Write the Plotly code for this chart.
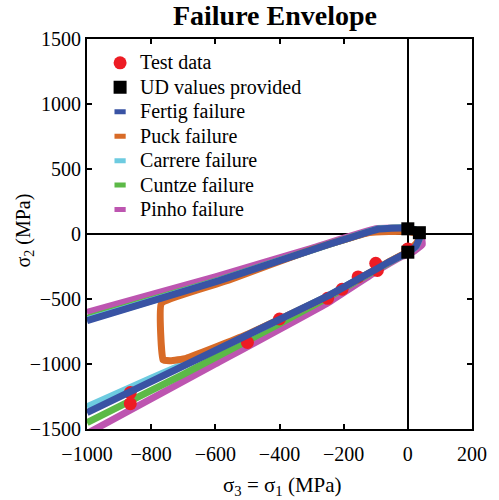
import plotly.graph_objects as go

# Measured failure points (sigma3 = sigma1, sigma2) in MPa
test_s1 = [-865, -865, -500, -400, -250, -205, -155, -100, -95, 0]
test_s2 = [-1220, -1305, -834, -654, -495, -425, -330, -225, -280, -115]

# Unidirectional strength values provided
ud_s1 = [0, 36, 0]
ud_s2 = [40, 10, -140]

# Predicted failure envelopes (closed loops)
fertig_s1 = [-1000, -600, -247, -60, 0, 25, 38, 30, 0, -50, -90, -130, -247, -588, -1000]
fertig_s2 = [-1374, -896, -474, -217, -140, -95, -20, 25, 45, 45, 38, 10, -80, -358, -667]

puck_s1 = [0, -120, -300, -557, -768, -763, -740, -691, -505, -250, -60, 0, 30, 35, 0]
puck_s2 = [20, 12, -120, -354, -533, -969, -975, -956, -777, -480, -215, -135, -60, 0, 20]

carrere_s1 = [-1000, -800, -600, -247, -60, 0, 25, 38, 30, 0, -50, -90, -130, -247, -588, -1000]
carrere_s2 = [-1330, -1110, -893, -474, -217, -140, -95, -20, 25, 45, 45, 38, 10, -80, -358, -660]

cuntze_s1 = [-1000, -700, -400, -250, -60, 0, 25, 38, 30, 0, -50, -90, -130, -247, -588, -1000]
cuntze_s2 = [-1451, -1080, -690, -490, -220, -140, -95, -20, 25, 45, 45, 38, 10, -80, -355, -650]

pinho_s1 = [-1000, -600, -250, -100, -20, 20, 45, 40, 0, -100, -300, -600, -1000]
pinho_s2 = [-1535, -1000, -530, -290, -175, -130, -80, 0, 45, 40, -110, -330, -603]

C_FERTIG = "#3953a4"
C_PUCK = "#d86b27"
C_CARRERE = "#6dcbe0"
C_CUNTZE = "#5cb947"
C_PINHO = "#bd55b0"
C_TEST = "#ed1c24"

FONT = "Liberation Serif"
LW = 7

fig = go.Figure()

def envelope(xs, ys, color):
    fig.add_trace(go.Scatter(x=xs, y=ys, mode="lines", showlegend=False,
                             line=dict(color=color, width=LW, shape="spline", smoothing=0.3),
                             hoverinfo="skip"))

envelope(pinho_s1, pinho_s2, C_PINHO)
envelope(cuntze_s1, cuntze_s2, C_CUNTZE)
envelope(carrere_s1, carrere_s2, C_CARRERE)
envelope(puck_s1, puck_s2, C_PUCK)

def legend_label(text):
    return f'<span style="font-size:20px">{text}</span>'

fig.add_trace(go.Scatter(x=test_s1, y=test_s2, mode="markers", name=legend_label("Test data"),
                         legendrank=1,
                         marker=dict(symbol="circle", size=13, color=C_TEST)))

envelope(fertig_s1, fertig_s2, C_FERTIG)

fig.add_trace(go.Scatter(x=ud_s1, y=ud_s2, mode="markers",
                         name=legend_label("UD values provided"),
                         legendrank=2,
                         marker=dict(symbol="square", size=13, color="black")))

# Legend entries for the envelopes: short thick dashes
legend_items = [("Fertig failure", C_FERTIG), ("Puck failure", C_PUCK),
                ("Carrere failure", C_CARRERE), ("Cuntze failure", C_CUNTZE),
                ("Pinho failure", C_PINHO)]
for rank, (name, color) in enumerate(legend_items, start=3):
    fig.add_trace(go.Scatter(x=[None], y=[None], mode="markers", name=legend_label(name),
                             legendrank=rank,
                             marker=dict(symbol="line-ew", size=8,
                                         line=dict(width=5, color=color))))

axis_common = dict(
    showgrid=False, showline=True, linecolor="black", linewidth=2, mirror="ticks",
    ticks="inside", ticklen=5, tickwidth=1.5, tickcolor="black",
    zeroline=True, zerolinecolor="black", zerolinewidth=2,
    tickfont=dict(family=FONT, size=20, color="black"),
)

fig.update_layout(
    width=499, height=500,
    margin=dict(l=87, r=25, t=39, b=71),
    paper_bgcolor="white", plot_bgcolor="white",
    font=dict(family=FONT, size=20, color="black"),
    title=dict(text="<b>Failure Envelope</b>", x=0.551, xref="container", xanchor="center",
               y=0.97, yref="container", yanchor="middle",
               font=dict(family=FONT, size=28, color="black")),
    xaxis=dict(range=[-1000, 200], dtick=200, tick0=0, ticklabelstandoff=6,
               **axis_common),
    yaxis=dict(range=[-1500, 1500], dtick=500, tick0=0,
               **axis_common),
    legend=dict(x=0.034, y=0.983, xanchor="left", yanchor="top",
                bgcolor="rgba(0,0,0,0)", borderwidth=0,
                font=dict(family=FONT, size=16.5, color="black"),
                itemsizing="trace", tracegroupgap=0),
    showlegend=True,
)

# Axis titles
fig.add_annotation(text="σ<sub>3</sub> = σ<sub>1</sub> (MPa)", xref="paper", yref="paper",
                   x=0.5065, y=-0.145, xanchor="center", yanchor="middle",
                   showarrow=False, font=dict(family=FONT, size=21, color="black"))
fig.add_annotation(text="σ<sub>2</sub> (MPa)", xref="paper", yref="paper",
                   x=-0.163, y=0.5096, xanchor="center", yanchor="middle", textangle=-90,
                   showarrow=False, font=dict(family=FONT, size=20, color="black"))

fig.write_html("out.html")
